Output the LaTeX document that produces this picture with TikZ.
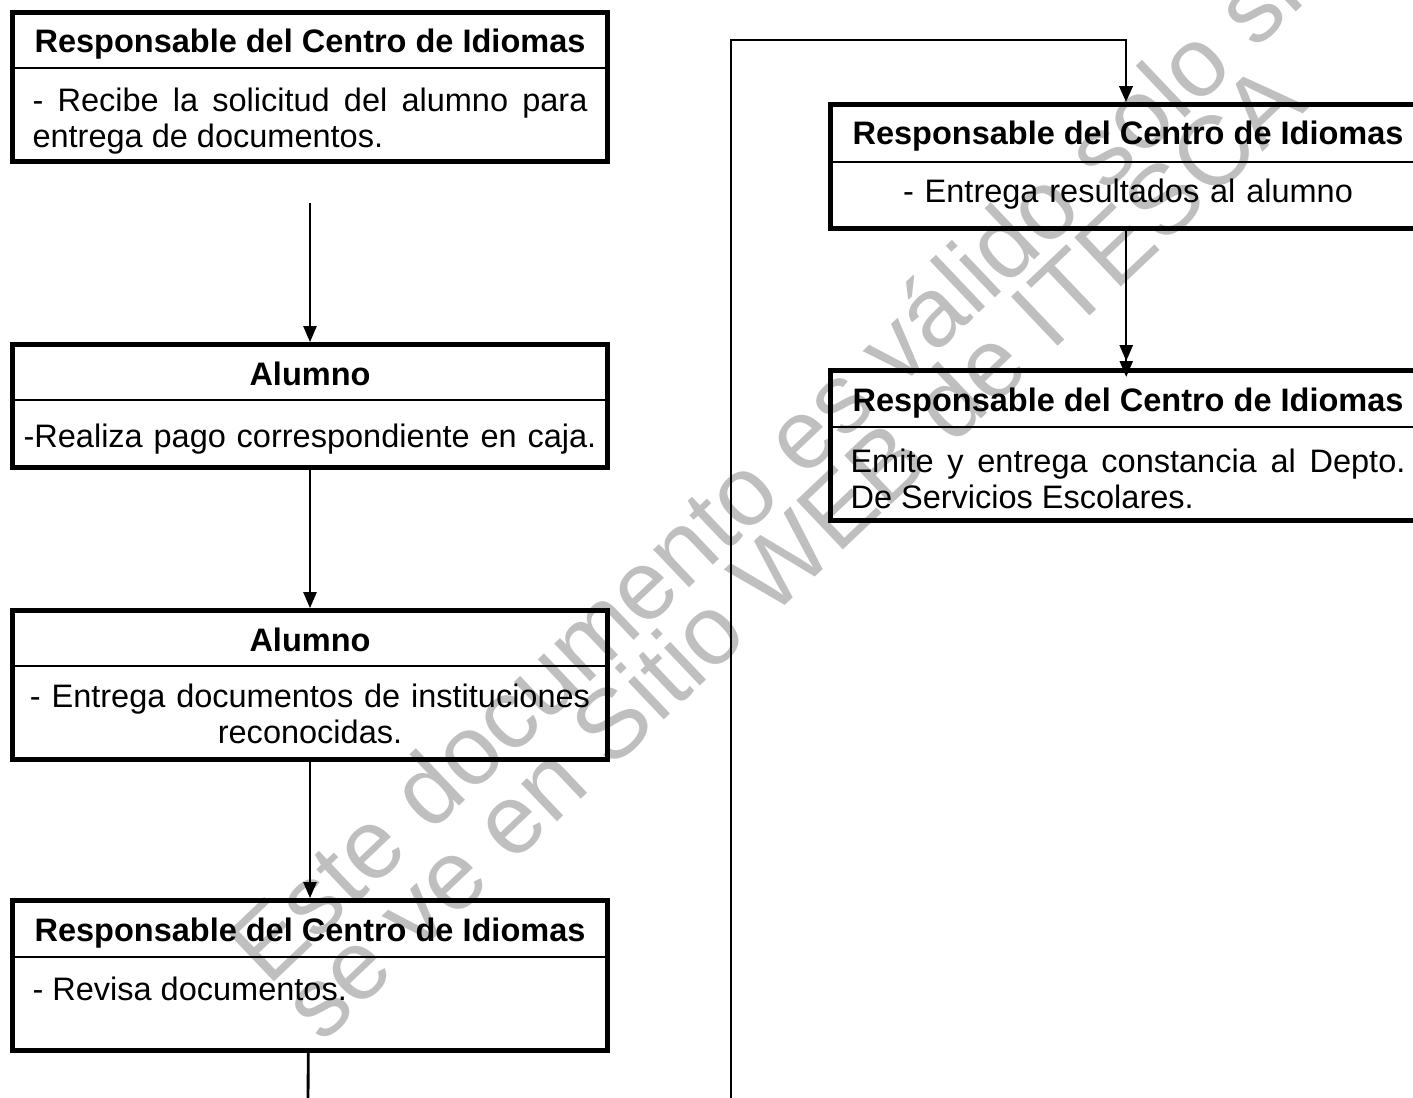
\documentclass[tikz,border=0pt]{standalone}
\usepackage{fontspec}
\setmainfont{Liberation Sans}
\usetikzlibrary{arrows.meta}
\usetikzlibrary{fit}
\usetikzlibrary{positioning}

\definecolor{marca}{gray}{0.75}

\tikzset{
  caja/.style={draw, line width=2.8pt, inner sep=0pt},
  divisor/.style={line width=0.9pt},
  titulo/.style={font=\fontsize{18.5}{20}\selectfont\bfseries, anchor=base, inner sep=0pt},
  cuerpo/.style={font=\fontsize{18.5}{20}\selectfont, anchor=north, inner sep=0pt, text width=11.1cm, execute at begin node=\hyphenpenalty10000\relax\strut},
  agua/.style={text=marca, rotate=43.5, anchor=base west, inner sep=0pt, font=\fontsize{56}{60}\selectfont},
  flecha/.style={line width=0.9pt, -{Triangle[width=7.5pt,length=9pt]}},
  enlace/.style={line width=1.6pt},
}

\begin{document}
\begin{tikzpicture}[x=0.02cm, y=-0.02cm]
\useasboundingbox (0,0) rectangle (1413,1098);
% marca de agua
\node[agua] (agua1) at (268,988) {Este documento es válido solo si};
\node[agua] (agua2) at (322,1045) {se ve en Sitio WEB de ITESCA};

% columna izquierda
\node[caja, fit={(12.5,12.5)(607.5,161.5)}] (b1) {};
\draw[divisor] (12,68) -- (608,68);
\node[titulo] (t1) at (310,53) {Responsable del Centro de Idiomas};
\node[cuerpo, align=justify] (c1) at (310,87) {- Recibe la solicitud del alumno para\linebreak entrega de documentos.};

\node[caja, fit={(12.5,344.5)(607.5,467.5)}] (b2) {};
\draw[divisor] (12,400) -- (608,400);
\node[titulo] (t2) at (310,385) {Alumno};
\node[cuerpo, align=center, text width=11.8cm] (c2) at (310,423) {-Realiza pago correspondiente en caja.};

\node[caja, fit={(12.5,610.5)(607.5,759.5)}] (b3) {};
\draw[divisor] (12,666) -- (608,666);
\node[titulo] (t3) at (310,651) {Alumno};
\node[cuerpo, align=center, text width=11.8cm] (c3) at (310,683) {- Entrega documentos de instituciones\\ reconocidas.};

\node[caja, fit={(12.5,900.5)(607.5,1050.5)}] (b4) {};
\draw[divisor] (12,957) -- (608,957);
\node[titulo] (t4) at (310,941) {Responsable del Centro de Idiomas};
\node[cuerpo, align=justify] (c4) at (310,976) {- Revisa documentos.};

% columna derecha
\node[caja, fit={(830.5,104.5)(1425.5,228.5)}] (b5) {};
\draw[divisor] (830,162) -- (1426,162);
\node[titulo] (t5) at (1128,145) {Responsable del Centro de Idiomas};
\node[cuerpo, align=center] (c5) at (1128,178) {- Entrega resultados al alumno};

\node[caja, fit={(830.5,370.5)(1425.5,520.5)}] (b6) {};
\draw[divisor] (830,427) -- (1426,427);
\node[titulo] (t6) at (1128,411) {Responsable del Centro de Idiomas};
\node[cuerpo, align=justify] (c6) at (1128,448) {Emite y entrega constancia al Depto.\linebreak De Servicios Escolares.};

% conectores
\coordinate (sal) at (308,1110);
\coordinate (ent) at (731,1110);
\coordinate (esq) at (1126,40);
\draw[flecha] ([yshift=-0.78cm]b1.south) -- (b2.north);
\draw[flecha] (b2.south) -- (b3.north);
\draw[flecha] (b3.south) -- (b4.north);
\draw[enlace] ([xshift=-1pt]b4.south) -- (sal);
\draw[enlace, -{Triangle[width=7.5pt,length=9pt]}] (ent) |- (esq) -- (esq |- b5.north);
\draw[line width=0.9pt, -{Triangle[width=7.5pt,length=9pt] Triangle[width=7.5pt,length=9pt,sep=-5pt]}] ([xshift=-1pt]b5.south) -- ([xshift=-1pt]b6.north);
\end{tikzpicture}
\end{document}
